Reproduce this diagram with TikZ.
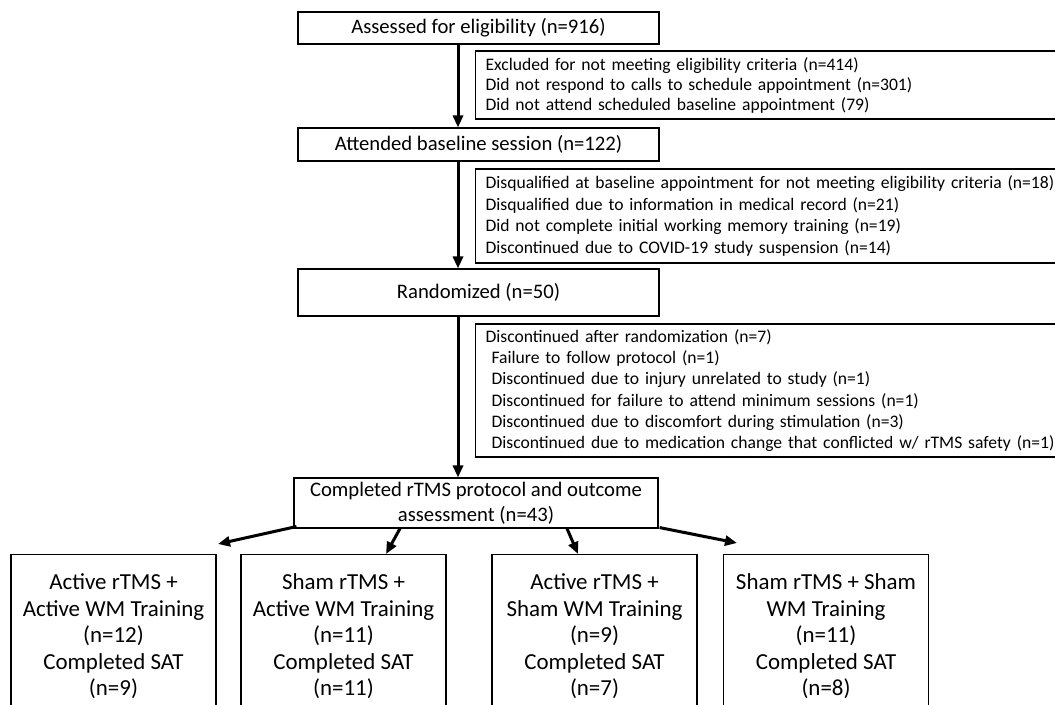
\documentclass[tikz,border=0pt]{standalone}
\usepackage{fontspec}
\setmainfont{Carlito}
\usetikzlibrary{arrows.meta,calc}
\begin{document}
\begin{tikzpicture}[x=0.75pt,y=-0.75pt,
  mainbox/.style={draw, line width=0.8pt, inner sep=0pt, align=center,
    minimum width=270.75pt, font=\fontsize{15.5}{18.75}\selectfont},
  exbox/.style={draw, line width=0.8pt, anchor=west, inner xsep=7.5pt, inner ysep=0pt,
    text width=480pt, align=left},
  armbox/.style={draw, line width=0.8pt, anchor=north, inner sep=0pt, align=center,
    minimum width=153.75pt, minimum height=123pt, font=\fontsize{17.2}{19.9}\selectfont},
  flow/.style={line width=2.25pt, -{Triangle[length=9pt,width=7.5pt]}}]
\clip (0,0) rectangle (1055,704);
\fill[white] (0,0) rectangle (1055,704);

\node[mainbox, minimum height=24pt] (b1) at (478.5,28) {Assessed for eligibility (n=916)};
\node[mainbox, minimum height=24.75pt] (b2) at (478.5,144.5) {Attended baseline session (n=122)};
\node[mainbox, minimum height=35.25pt] (b3) at (478.5,292.5) {Randomized (n=50)};
\node[mainbox, minimum width=273pt, minimum height=37.5pt] (b4) at (476,503)
  {Completed rTMS protocol and outcome\\assessment (n=43)};

\node[exbox, minimum height=51pt, font=\fontsize{13.2}{15}\selectfont] (e1) at (475,85)
  {Excluded for not meeting eligibility criteria (n=414)\\
   Did not respond to calls to schedule appointment (n=301)\\
   Did not attend scheduled baseline appointment (79)};
\node[exbox, minimum height=70.5pt, font=\fontsize{13.2}{16.2}\selectfont] (e2) at (475,216)
  {Disqualified at baseline appointment for not meeting eligibility criteria (n=18)\\
   Disqualified due to information in medical record (n=21)\\
   Did not complete initial working memory training (n=19)\\
   Discontinued due to COVID-19 study suspension (n=14)};
\node[exbox, minimum height=99.75pt, font=\fontsize{13.2}{15.9}\selectfont] (e3) at (475,390.5)
  {Discontinued after randomization (n=7)\\
   \hspace*{4.5pt}Failure to follow protocol (n=1)\\
   \hspace*{4.5pt}Discontinued due to injury unrelated to study (n=1)\\
   \hspace*{4.5pt}Discontinued for failure to attend minimum sessions (n=1)\\
   \hspace*{4.5pt}Discontinued due to discomfort during stimulation (n=3)\\
   \hspace*{4.5pt}Discontinued due to medication change that conflicted w/ rTMS safety (n=1)};

\node[armbox] (aA) at (113.5,554) {Active rTMS +\\Active WM Training\\(n=12)\\Completed SAT\\(n=9)};
\node[armbox] (aB) at (343.5,554) {Sham rTMS +\\Active WM Training\\(n=11)\\Completed SAT\\(n=11)};
\node[armbox] (aC) at (594.5,554) {Active rTMS +\\Sham WM Training\\(n=9)\\Completed SAT\\(n=7)};
\node[armbox] (aD) at (826,554) {Sham rTMS + Sham\\WM Training\\(n=11)\\Completed SAT\\(n=8)};

\coordinate (ax) at (458,0);
\draw[flow] (b1.south -| ax) -- (b2.north -| ax);
\draw[flow] (b2.south -| ax) -- (b3.north -| ax);
\draw[flow] (b3.south -| ax) -- (b4.north -| ax);

\coordinate (tA) at (218,544);
\coordinate (tB) at (386,554);
\coordinate (tC) at (578,554);
\coordinate (tD) at (737,543);
\draw[flow] ($(b4.south west)+(3,-2)$) -- (tA);
\draw[flow] ($(b4.south)+(-76,0)$) -- (tB);
\draw[flow] ($(b4.south)+(91,0)$) -- (tC);
\draw[flow] ($(b4.south east)+(1,-1)$) -- (tD);
\end{tikzpicture}
\end{document}
